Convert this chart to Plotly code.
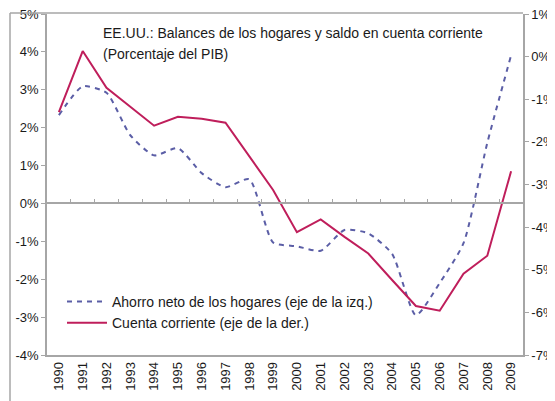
import plotly.graph_objects as go

years = [str(y) for y in range(1990, 2010)]
ahorro_neto = [2.33, 3.09, 2.92, 1.8, 1.27, 1.46, 0.8, 0.43, 0.64, -1.03,
               -1.13, -1.25, -0.7, -0.79, -1.33, -2.95, -2.1, -1.05, 1.6, 3.91]
cuenta_corriente = [-1.3, 0.13, -0.73, -1.18, -1.62, -1.41, -1.46, -1.55, -2.35, -3.13,
                    -4.12, -3.82, -4.23, -4.62, -5.24, -5.85, -5.96, -5.09, -4.67, -2.69]
left_ticks = [-4, -3, -2, -1, 0, 1, 2, 3, 4, 5]
left_labels = ["-4%", "-3%", "-2%", "-1%", "0%", "1%", "2%", "3%", "4%", "5%"]
right_ticks = [-7, -6, -5, -4, -3, -2, -1, 0, 1]
right_labels = ["-7%", "-6%", "-5%", "-4%", "-3%", "-2%", "-1%", "0%", "1%"]

title1 = "EE.UU.: Balances de los hogares y saldo en cuenta corriente"
title2 = "(Porcentaje del PIB)"
name_a = "Ahorro neto de los hogares (eje de la izq.)"
name_b = "Cuenta corriente (eje de la der.)"

FONT = "Liberation Sans, Arial, sans-serif"
GRAY = "#A6A6A6"

# page body has an 8px margin, so the figure is drawn 8px smaller and offset
OFF = 8
W, H = 555 - OFF, 401 - OFF
L, R, T, B = 47 - OFF, 32, 14 - OFF, 46
pw, ph = W - L - R, H - T - B


def px_x(x):
    return (x - OFF - L) / pw


def px_y(y):
    return (H - B - (y - OFF)) / ph


fig = go.Figure()
fig.add_trace(go.Scatter(
    x=years, y=ahorro_neto, name=name_a, mode="lines",
    line=dict(color="#5B5EA6", width=2, dash="5px,5px", shape="spline", smoothing=0.6),
    xaxis="x", yaxis="y"))
fig.add_trace(go.Scatter(
    x=years, y=cuenta_corriente, name=name_b, mode="lines",
    line=dict(color="#BF1E5B", width=2),
    xaxis="x2", yaxis="y2"))

zero_pos = (0 - left_ticks[0]) / (left_ticks[-1] - left_ticks[0])

fig.update_layout(
    width=W, height=H,
    margin=dict(l=L, r=R, t=T, b=B, pad=0, autoexpand=False),
    paper_bgcolor="white", plot_bgcolor="white",
    font=dict(family=FONT, size=13, color="#1a1a1a"),
    showlegend=True,
    legend=dict(x=px_x(62), y=px_y(286), xanchor="left", yanchor="top",
                bgcolor="rgba(0,0,0,0)", font=dict(size=14, color="#1a1a1a"),
                itemwidth=40, tracegroupgap=0),
    xaxis=dict(type="category", categoryorder="array", categoryarray=years,
               range=[-0.5, len(years) - 0.5], showgrid=False, zeroline=False,
               showline=True, linecolor=GRAY, linewidth=1.5, ticks="",
               tickangle=-90, tickfont=dict(size=13), automargin=False,
               ticklabeloverflow="allow"),
    xaxis2=dict(type="category", categoryorder="array", categoryarray=years,
                range=[-0.5, len(years) - 0.5], overlaying="x", anchor="free",
                position=zero_pos, side="bottom", showgrid=False, zeroline=False,
                showline=True, linecolor=GRAY, linewidth=1.5, ticks="inside",
                tickson="boundaries", ticklen=4, tickcolor=GRAY, tickwidth=1,
                showticklabels=False, automargin=False),
    yaxis=dict(range=[left_ticks[0], left_ticks[-1]], tickvals=left_ticks, ticktext=left_labels,
               showgrid=False, zeroline=False, showline=True, linecolor=GRAY, linewidth=1.5,
               ticks="outside", ticklen=4, tickcolor=GRAY, tickfont=dict(size=13),
               automargin=False, ticklabeloverflow="allow"),
    yaxis2=dict(range=[right_ticks[0], right_ticks[-1]], tickvals=right_ticks, ticktext=right_labels,
                overlaying="y", side="right", anchor="x", showgrid=False, zeroline=False,
                showline=True, linecolor=GRAY, linewidth=1.5,
                ticks="outside", ticklen=4, tickcolor=GRAY, tickfont=dict(size=13),
                automargin=False, ticklabeloverflow="allow"),
)

# outer frame (left and top) of the chart area
fx0 = px_x(10)
fy_top = px_y(13)
fy_bot = px_y(401)
fig.add_shape(type="line", xref="paper", yref="paper", x0=fx0, x1=fx0, y0=fy_bot, y1=fy_top,
              line=dict(color=GRAY, width=1.5))
fig.add_shape(type="line", xref="paper", yref="paper", x0=fx0, x1=1, y0=fy_top, y1=fy_top,
              line=dict(color=GRAY, width=1.5))

fig.add_annotation(text=title1, xref="paper", yref="paper", x=px_x(101), y=px_y(33),
                   xanchor="left", yanchor="middle", showarrow=False,
                   font=dict(size=14, color="#1a1a1a"))
fig.add_annotation(text=title2, xref="paper", yref="paper", x=px_x(101), y=px_y(54),
                   xanchor="left", yanchor="middle", showarrow=False,
                   font=dict(size=14, color="#1a1a1a"))

fig.write_html("out.html")
